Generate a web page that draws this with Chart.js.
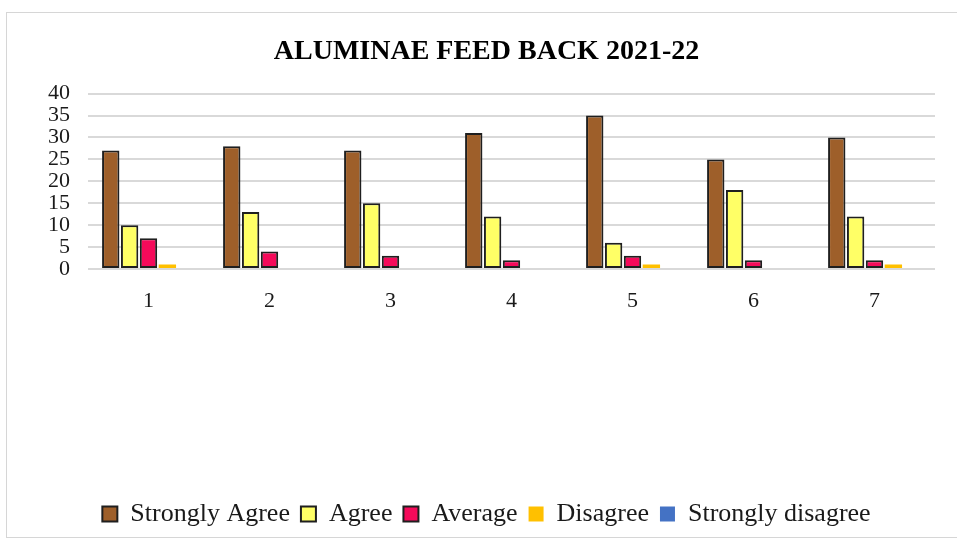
<!DOCTYPE html>
<html>
<head>
<meta charset="utf-8">
<title>Aluminae Feed Back 2021-22</title>
<script src="https://cdn.jsdelivr.net/npm/chart.js@4/dist/chart.umd.min.js"></script>
<style>
  html, body { margin: 0; padding: 0; background: #fff; }
  #frame {
    position: absolute; left: 6px; top: 12px; width: 960px; height: 526px;
    border: 1px solid #d6d6d6; box-sizing: border-box;
  }
  #wrap { position: absolute; left: 0; top: 0; width: 957px; height: 544px; }
</style>
</head>
<body>
<div id="frame"></div>
<div id="wrap"><canvas id="feedbackChart"></canvas></div>
<script>
// question numbers on the x axis
const questions = ['1', '2', '3', '4', '5', '6', '7'];

// responses per question
const stronglyAgree    = [27, 28, 27, 31, 35, 25, 30];
const agree            = [10, 13, 15, 12, 6, 18, 12];
const average          = [7, 4, 3, 2, 3, 2, 2];
const disagree         = [1, 0, 0, 0, 1, 0, 1];
const stronglyDisagree = [0, 0, 0, 0, 0, 0, 0];

const yTicks = [0, 5, 10, 15, 20, 25, 30, 35, 40];

const serif = "'Liberation Serif', 'Times New Roman', serif";
const edge = '#1f1f1f';

function bar(label, data, colour, outlined) {
    return {
        label: label,
        data: data,
        backgroundColor: colour,
        borderColor: outlined ? edge : colour,
        borderWidth: outlined ? 2 : 0,
        borderSkipped: false,
        barPercentage: 0.92,
        categoryPercentage: 0.78
    };
}

const ctx = document.getElementById('feedbackChart').getContext('2d');

new Chart(ctx, {
    type: 'bar',
    data: {
        labels: questions,
        datasets: [
            bar('Strongly Agree', stronglyAgree, '#9e5f2a', true),
            bar('Agree', agree, '#ffff66', true),
            bar('Average', average, '#f50a5a', true),
            bar('Disagree', disagree, '#ffc000', false),
            bar('Strongly disagree', stronglyDisagree, '#4472c4', false)
        ]
    },
    options: {
        responsive: true,
        maintainAspectRatio: false,
        animation: false,
        layout: { padding: { top: 35, left: 38, right: 22, bottom: 7 } },
        scales: {
            x: {
                grid: { display: false },
                border: { display: false },
                ticks: {
                    color: '#1a1a1a',
                    padding: 11,
                    font: { family: serif, size: 22 }
                },
                afterFit: (scale) => { scale.height = 221; }
            },
            y: {
                min: 0,
                max: 40,
                afterBuildTicks: (scale) => { scale.ticks = yTicks.map(v => ({ value: v })); },
                grid: { color: '#d9d9d9', lineWidth: 2, drawTicks: false },
                border: { display: false },
                ticks: {
                    color: '#1a1a1a',
                    autoSkip: false,
                    padding: 18,
                    font: { family: serif, size: 22, lineHeight: 1 }
                },
                afterFit: (scale) => { scale.width = 50; }
            }
        },
        plugins: {
            title: {
                display: true,
                text: 'ALUMINAE FEED BACK 2021-22',
                color: '#000',
                font: { family: serif, size: 28, weight: 'bold' },
                padding: { top: 0, bottom: 25 }
            },
            legend: {
                position: 'bottom',
                labels: {
                    color: '#1a1a1a',
                    boxWidth: 15,
                    boxHeight: 15,
                    padding: 11,
                    font: { family: serif, size: 26 }
                }
            },
            tooltip: { enabled: false }
        }
    }
});
</script>
</body>
</html>
